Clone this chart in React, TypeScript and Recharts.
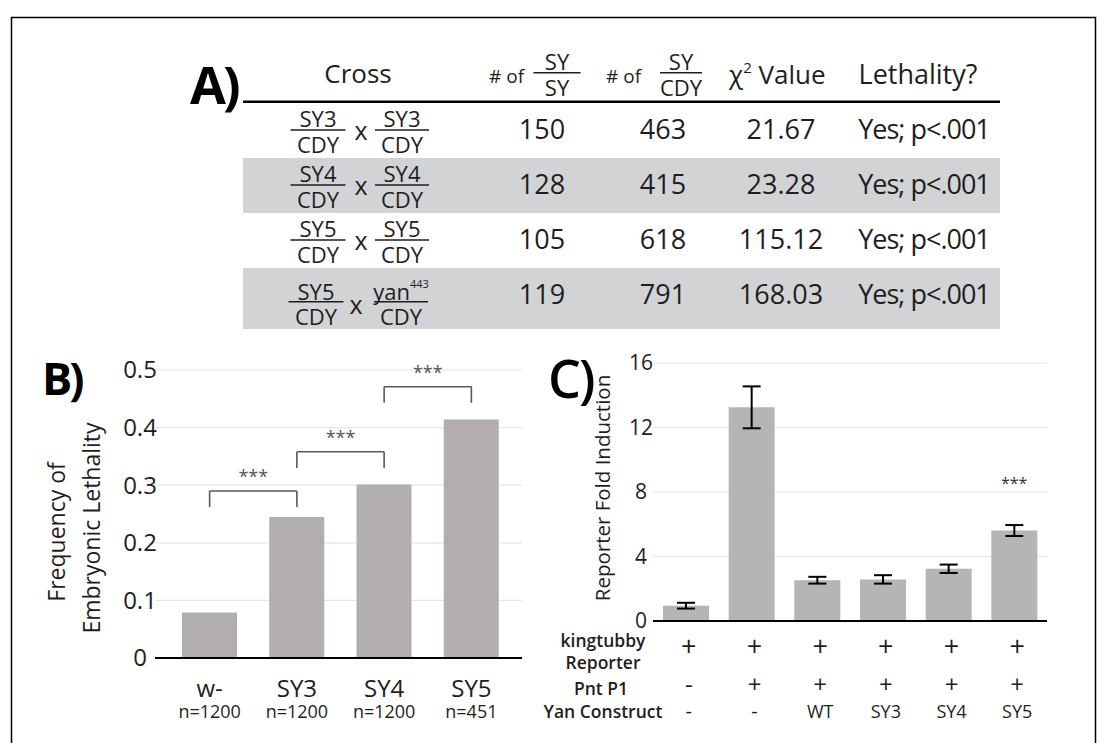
import React from 'react';
import { BarChart, Bar, XAxis, YAxis, CartesianGrid, ReferenceLine, ReferenceDot, ErrorBar } from 'recharts';

const FONT = '"Open Sans", "Noto Sans", sans-serif';
const INK = '#1e1e1e';

// ---------- Panel A : table ----------
const crossLeft = ['SY3', 'SY4', 'SY5', 'SY5'];
const crossRight = ['SY3', 'SY4', 'SY5', 'yan'];
const crossRightSup = ['', '', '', '443'];
const crossDenominator = ['CDY', 'CDY', 'CDY', 'CDY'];
const countSYSY = [150, 128, 105, 119];
const countSYCDY = [463, 415, 618, 791];
const chiSquare = ['21.67', '23.28', '115.12', '168.03'];
const lethalityCall = ['Yes; p<.001', 'Yes; p<.001', 'Yes; p<.001', 'Yes; p<.001'];

// ---------- Panel B : embryonic lethality ----------
const strains = ['w-', 'SY3', 'SY4', 'SY5'];
const strainN = ['n=1200', 'n=1200', 'n=1200', 'n=451'];
const lethalityFreq = [0.079, 0.245, 0.301, 0.414];
const lethalityTicks = [0, 0.1, 0.2, 0.3, 0.4, 0.5];
const bracketFrom = ['w-', 'SY3', 'SY4'];
const bracketTo = ['SY3', 'SY4', 'SY5'];
const bracketTop = [0.29, 0.358, 0.471];
const bracketLeg = [0.262, 0.33, 0.443];
const bracketSig = ['***', '***', '***'];

// ---------- Panel C : reporter fold induction ----------
const kingtubbyReporter = ['+', '+', '+', '+', '+', '+'];
const pntP1 = ['-', '+', '+', '+', '+', '+'];
const yanConstruct = ['-', '-', 'WT', 'SY3', 'SY4', 'SY5'];
const foldInduction = [0.95, 13.25, 2.53, 2.58, 3.24, 5.61];
const foldError = [0.18, 1.3, 0.21, 0.26, 0.26, 0.34];
const foldTicks = [0, 4, 8, 12, 16];
const foldSig = ['', '', '', '', '', '***'];
const foldSigLevel = 8.2;

const dataB = strains.map((s, i) => ({ strain: s, freq: lethalityFreq[i], n: strainN[i] }));
const dataC = foldInduction.map((v, i) => ({ idx: i, fold: v, err: foldError[i], sig: foldSig[i] }));

const rowTop = [103, 158, 213, 268];
const rowH = [55, 55, 55, 61];

function Frac({ cx, lineY, half, num, sup, den, numGap, fs }: any) {
  return (
    <g>
      <text x={cx} y={lineY - numGap} textAnchor="middle" fontSize={fs} fill={INK}>
        {num}
        {sup ? <tspan fontSize={11} dy={-12}>{sup}</tspan> : null}
      </text>
      <line x1={cx - half} x2={cx + half} y1={lineY} y2={lineY} stroke={INK} strokeWidth={1.6} />
      <text x={cx} y={lineY + 23} textAnchor="middle" fontSize={fs} fill={INK}>{den}</text>
    </g>
  );
}

function Overlay() {
  return (
    <svg width={1099} height={743} style={{ position: 'absolute', left: 0, top: 0 }} fontFamily={FONT}>
      <path d="M11.5 743 V17.5 H1095.5 V743" fill="none" stroke="#000" strokeWidth={1.5} />
      {/* Panel letters */}
      <text x={190} y={104} fontSize={52} fontWeight={700} letterSpacing={-3} fill="#000">A)</text>
      <text x={42} y={395} fontSize={45} fontWeight={700} letterSpacing={-3} fill="#000">B)</text>
      <text x={548} y={398} fontSize={52} fontWeight={600} letterSpacing={-2} fill="#000">C)</text>

      {/* Table rows background */}
      {rowTop.map((t, i) => (i % 2 === 1 ? <rect key={'g' + i} x={243} y={t} width={757} height={rowH[i]} fill="#d2d3d5" /> : null))}
      <line x1={243} x2={1000} y1={101.7} y2={101.7} stroke="#000" strokeWidth={2.5} />

      {/* Table header */}
      <text x={358} y={83} textAnchor="middle" fontSize={26} fill={INK}>Cross</text>
      <text x={489} y={83} fontSize={19} fill={INK}># of</text>
      <Frac cx={557} lineY={72.7} half={23.5} num="SY" den="SY" numGap={2.7} fs={22} />
      <text x={606} y={83} fontSize={19} fill={INK}># of</text>
      <Frac cx={681} lineY={72.7} half={21} num="SY" den="CDY" numGap={2.7} fs={22} />
      <text x={729} y={84} fontSize={26} fill={INK}>
        χ<tspan fontSize={15} dy={-11}>2</tspan>
        <tspan dy={11}> Value</tspan>
      </text>
      <text x={918} y={84} textAnchor="middle" fontSize={27} fill={INK}>Lethality?</text>

      {/* Table body */}
      {rowTop.map((t, i) => {
        const last = i === 3;
        const lineY = last ? t + 33.7 : t + 27;
        const numGap = last ? 1.5 : 2.8;
        const lx = last ? 316 : 318;
        const rx = last ? 401 : 402;
        const xx = last ? 356 : 361;
        const xBase = last ? t + 45.5 : t + 36.5;
        const base = t + 36;
        return (
          <g key={'r' + i}>
            <Frac cx={lx} lineY={lineY} half={27.5} num={crossLeft[i]} den={crossDenominator[i]} numGap={numGap} fs={22} />
            <text x={xx} y={xBase} textAnchor="middle" fontSize={25} fill={INK}>x</text>
            <Frac cx={rx} lineY={lineY} half={27} num={crossRight[i]} sup={crossRightSup[i]} den={crossDenominator[i]} numGap={numGap} fs={22} />
            <text x={542} y={base} textAnchor="middle" fontSize={27} fill={INK}>{countSYSY[i]}</text>
            <text x={663} y={base} textAnchor="middle" fontSize={27} fill={INK}>{countSYCDY[i]}</text>
            <text x={781} y={base} textAnchor="middle" fontSize={27} fill={INK}>{chiSquare[i]}</text>
            <text x={924} y={base} textAnchor="middle" fontSize={27} letterSpacing={-1} fill={INK}>{lethalityCall[i]}</text>
          </g>
        );
      })}

      {/* Panel B axis title */}
      <text transform="translate(64.5,532) rotate(-90)" textAnchor="middle" fontSize={23} fill={INK}>Frequency of</text>
      <text transform="translate(99.5,528) rotate(-90)" textAnchor="middle" fontSize={23} fill={INK}>Embryonic Lethality</text>

      {/* Panel C axis title and row labels */}
      <text transform="translate(610,488) rotate(-90)" textAnchor="middle" fontSize={20.5} fill={INK}>Reporter Fold Induction</text>
      <text x={603} y={647} textAnchor="middle" fontSize={17.5} fontWeight={600} fill={INK}>kingtubby</text>
      <text x={603} y={669} textAnchor="middle" fontSize={17.5} fontWeight={600} fill={INK}>Reporter</text>
      <text x={601} y={695} textAnchor="middle" fontSize={17.5} fontWeight={600} fill={INK}>Pnt P1</text>
      <text x={603} y={718} textAnchor="middle" fontSize={17.5} fontWeight={600} fill={INK}>Yan Construct</text>
    </svg>
  );
}

const yTick = (fs: number) => (p: any) => (
  <text x={p.x} y={p.y} dy="0.35em" textAnchor="middle" fontSize={fs} fill={INK} fontFamily={FONT}>
    {String(p.payload.value)}
  </text>
);

const strainTick = (p: any) => {
  const i = p.index;
  return (
    <g fontFamily={FONT} fill={INK}>
      <text x={p.x} y={p.y + 39} textAnchor="middle" fontSize={24}>{strains[i]}</text>
      <text x={p.x} y={p.y + 60} textAnchor="middle" fontSize={18}>{strainN[i]}</text>
    </g>
  );
};

const condTick = (p: any) => {
  const i = p.index;
  const sym = (s: string) => s === '+' || s === '-';
  return (
    <g fontFamily={FONT} fill={INK}>
      <text x={p.x + 3} y={p.y + 35} textAnchor="middle" fontSize={27}>{kingtubbyReporter[i]}</text>
      <text x={p.x + 3} y={p.y + 72} textAnchor="middle" fontSize={24}>{pntP1[i]}</text>
      <text x={p.x + 3} y={p.y + 97} textAnchor="middle" fontSize={sym(yanConstruct[i]) ? 20 : 18}>{yanConstruct[i]}</text>
    </g>
  );
};

const starShape = (p: any) => (
  <text x={p.cx} y={p.cy} textAnchor="middle" fontSize={16} fill="#333" fontFamily={FONT}>
    {foldSig[5]}
  </text>
);

function PanelB() {
  const bs = { stroke: '#595959', strokeWidth: 1.6 };
  return (
    <div style={{ position: 'absolute', left: 20, top: 340 }}>
      <BarChart width={520} height={400} data={dataB} margin={{ top: 30, right: 18, bottom: 12, left: 0 }}>
        <CartesianGrid vertical={false} stroke="#e6e6e6" strokeWidth={1.2} />
        <XAxis dataKey="strain" axisLine={{ stroke: '#000', strokeWidth: 2 }} tickLine={false} tickSize={0} tickMargin={0}
          height={70} interval={0} padding={{ left: 11, right: 7 }} tick={strainTick} />
        <YAxis domain={[0, 0.5]} ticks={lethalityTicks} width={135} axisLine={false} tickLine={false} tickSize={0}
          tickMargin={15} tick={yTick(24)} interval={0} />
        <Bar dataKey="freq" fill="#b3aeae" barSize={55} isAnimationActive={false} />
        {bracketFrom.map((f, i) => (
          <ReferenceLine key={'h' + i} segment={[{ x: f, y: bracketTop[i] }, { x: bracketTo[i], y: bracketTop[i] }]} {...bs}
            label={{ value: bracketSig[i], position: 'top', offset: 8, fill: '#555', fontSize: 18, fontFamily: FONT }} />
        ))}
        {bracketFrom.map((f, i) => (
          <ReferenceLine key={'l' + i} segment={[{ x: f, y: bracketTop[i] }, { x: f, y: bracketLeg[i] }]} {...bs} />
        ))}
        {bracketTo.map((f, i) => (
          <ReferenceLine key={'r' + i} segment={[{ x: f, y: bracketTop[i] }, { x: f, y: bracketLeg[i] }]} {...bs} />
        ))}
      </BarChart>
    </div>
  );
}

function PanelC() {
  return (
    <div style={{ position: 'absolute', left: 540, top: 330 }}>
      <BarChart width={540} height={400} data={dataC} margin={{ top: 33, right: 33, bottom: 9, left: 0 }}>
        <CartesianGrid vertical={false} stroke="#e6e6e6" strokeWidth={1.2} />
        <XAxis dataKey="idx" axisLine={{ stroke: '#000', strokeWidth: 2 }} tickLine={false} tickSize={0} tickMargin={0}
          height={100} interval={0} tick={condTick} />
        <YAxis domain={[0, 16]} ticks={foldTicks} width={113} axisLine={false} tickLine={false} tickSize={0}
          tickMargin={12} tick={yTick(21)} interval={0} />
        <Bar dataKey="fold" fill="#b5b5b5" barSize={46} isAnimationActive={false}>
          <ErrorBar dataKey="err" width={9} stroke="#000" strokeWidth={2} isAnimationActive={false} />
        </Bar>
        <ReferenceDot x={5} y={foldSigLevel} r={0} shape={starShape} />
      </BarChart>
    </div>
  );
}

export default function App() {
  return (
    <div style={{ position: 'absolute', left: 0, top: 0, width: 1099, height: 743, background: '#fff', fontFamily: FONT, overflow: 'hidden' }}>
      <Overlay />
      <PanelB />
      <PanelC />
    </div>
  );
}
